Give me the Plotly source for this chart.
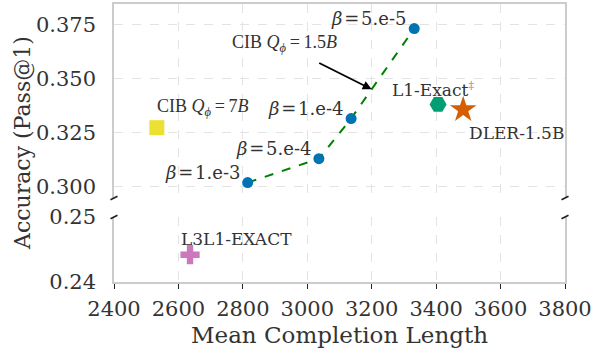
import plotly.graph_objects as go

# ---- data ----
beta_labels = ["<i>β</i>\u200a=\u200a1.e-3", "<i>β</i>\u200a=\u200a5.e-4",
               "<i>β</i>\u200a=\u200a1.e-4", "<i>β</i>\u200a=\u200a5.e-5"]
cib_len = [2815, 3036, 3136, 3332]
cib_acc = [0.302, 0.313, 0.3315, 0.373]

cib7_len, cib7_acc = [2533], [0.3273]
l1_len, l1_acc = [3406], [0.338]
dler_len, dler_acc = [3484], [0.3356]
l3_len, l3_acc = [2636], [0.2442]

arrow_target = (3200, 0.3450)

x_ticks = [2400, 2600, 2800, 3000, 3200, 3400, 3600, 3800]
y_top_ticks = [0.300, 0.325, 0.350, 0.375]
y_bot_ticks = [0.24, 0.25]

# ---- style ----
BLUE = "#0173b2"
GREEN_LINE = "#008000"
YELLOW = "#ece133"
TEAL = "#029e73"
ORANGE = "#d55e00"
PINK = "#cc78bc"
TXT = "#333333"
SPINE = "#cccccc"
GRID = "#e3e3e3"
SERIF = "DejaVu Serif"
TIMES = "Liberation Serif"

fig = go.Figure()

fig.add_trace(go.Scatter(x=cib_len, y=cib_acc, mode="lines",
                         line=dict(color=GREEN_LINE, width=2, dash="dash"),
                         xaxis="x2", yaxis="y2", showlegend=False, hoverinfo="skip"))
fig.add_trace(go.Scatter(x=cib_len, y=cib_acc, mode="markers",
                         marker=dict(color=BLUE, size=11, line=dict(width=0)),
                         xaxis="x2", yaxis="y2", showlegend=False))
fig.add_trace(go.Scatter(x=cib7_len, y=cib7_acc, mode="markers",
                         marker=dict(color=YELLOW, size=15, symbol="square", line=dict(width=0)),
                         xaxis="x2", yaxis="y2", showlegend=False))
fig.add_trace(go.Scatter(x=l1_len, y=l1_acc, mode="markers",
                         marker=dict(color=TEAL, size=17, symbol="hexagon2", line=dict(width=0)),
                         xaxis="x2", yaxis="y2", showlegend=False))
fig.add_trace(go.Scatter(x=dler_len, y=dler_acc, mode="markers",
                         marker=dict(color=ORANGE, size=20, symbol="star", line=dict(width=0)),
                         xaxis="x2", yaxis="y2", showlegend=False))
fig.add_trace(go.Scatter(x=l3_len, y=l3_acc, mode="markers",
                         marker=dict(color=PINK, size=16, symbol="cross", line=dict(width=0)),
                         xaxis="x", yaxis="y", showlegend=False))

ann = []
for lx, ly, lab in zip(cib_len, cib_acc, beta_labels):
    ann.append(dict(x=lx, y=ly, xref="x2", yref="y2", text=lab, showarrow=False,
                    xanchor="right", yanchor="middle", xshift=-6, yshift=10,
                    font=dict(family=SERIF, size=18, color=TXT)))
ann.append(dict(x=cib7_len[0], y=cib7_acc[0], xref="x2", yref="y2",
                text="CIB <i>Q</i><sub><i>ϕ</i></sub>\u2009=\u20097<i>B</i>", showarrow=False,
                xanchor="left", yanchor="middle", xshift=-2, yshift=20,
                font=dict(family=TIMES, size=18, color=TXT)))
ann.append(dict(x=arrow_target[0], y=arrow_target[1], xref="x2", yref="y2",
                text="", showarrow=True, arrowhead=2, arrowsize=1, arrowwidth=1.8,
                arrowcolor="black", ax=-54, ay=-27, standoff=0))
ann.append(dict(x=arrow_target[0], y=arrow_target[1], xref="x2", yref="y2",
                text="CIB <i>Q</i><sub><i>ϕ</i></sub>\u2009=\u20091.5<i>B</i>", showarrow=False,
                xanchor="center", yanchor="middle", xshift=-87, yshift=46,
                font=dict(family=TIMES, size=18, color=TXT)))
ann.append(dict(x=l1_len[0], y=l1_acc[0], xref="x2", yref="y2",
                text="L1-Exact<sup><span style='color:#999999'>‡</span></sup>", showarrow=False,
                xanchor="center", yanchor="middle", xshift=-5, yshift=15,
                font=dict(family=SERIF, size=17, color=TXT)))
ann.append(dict(x=dler_len[0], y=dler_acc[0], xref="x2", yref="y2",
                text="DLER-1.5B", showarrow=False,
                xanchor="left", yanchor="middle", xshift=4, yshift=-23,
                font=dict(family=SERIF, size=17, color=TXT)))
ann.append(dict(x=l3_len[0], y=l3_acc[0], xref="x", yref="y",
                text="L3L1-EXACT", showarrow=False,
                xanchor="left", yanchor="middle", xshift=-11, yshift=16,
                font=dict(family=SERIF, size=17, color=TXT)))

# break marks (decoration)
W, H = 592, 354
L, R, T, B = 114, 27, 4, 72
pw, ph = W - L - R, H - T - B
top_dom = [(282 - 198) / ph, 1.0]
bot_dom = [0.0, (282 - 217) / ph]
shapes = []
for xp in (0.0, 1.0):
    for yp in (top_dom[0], bot_dom[1]):
        shapes.append(dict(type="line", xref="paper", yref="paper",
                           x0=xp - 3.5 / pw, x1=xp + 3.5 / pw,
                           y0=yp - 1.8 / ph, y1=yp + 1.8 / ph,
                           line=dict(color="#222222", width=1.6)))

axis_common = dict(gridcolor=GRID, griddash="dash", gridwidth=1, zeroline=False,
                   showline=True, linecolor=SPINE, linewidth=1.5, automargin=False)

fig.update_layout(
    width=W, height=H, margin=dict(l=L, r=R, t=T, b=B, autoexpand=False),
    plot_bgcolor="white", paper_bgcolor="white",
    annotations=ann, shapes=shapes,
    xaxis=dict(range=[2400, 3800], tickvals=x_ticks, domain=[0, 1], anchor="y",
               ticks="outside", ticklen=5, tickwidth=1.3, tickcolor="#222222",
               ticklabelstandoff=2, mirror=False,
               tickfont=dict(family=SERIF, size=21, color=TXT),
               title=dict(text="Mean Completion Length", standoff=7,
                          font=dict(family=SERIF, size=23, color=TXT)),
               **axis_common),
    xaxis2=dict(range=[2400, 3800], tickvals=x_ticks, domain=[0, 1], anchor="y2",
                matches="x", side="top", showticklabels=False, ticks="", mirror=False,
                **axis_common),
    yaxis=dict(range=[0.24, 0.25], tickvals=y_bot_ticks, ticktext=["0.24", "0.25"],
               domain=bot_dom, anchor="x", mirror=True,
               ticks="outside", ticklen=12, tickcolor="rgba(0,0,0,0)",
               tickfont=dict(family=SERIF, size=21, color=TXT),
               **axis_common),
    yaxis2=dict(range=[0.2949, 0.3843], tickvals=y_top_ticks,
                ticktext=["0.300", "0.325", "0.350", "0.375"],
                domain=top_dom, anchor="x2", mirror=True,
                ticks="outside", ticklen=12, tickcolor="rgba(0,0,0,0)",
                tickfont=dict(family=SERIF, size=21, color=TXT),
                **axis_common),
)

fig.add_annotation(x=0, y=0.5, xref="paper", yref="paper", xshift=-92,
                   text="Accuracy (Pass@1)", textangle=-90, showarrow=False,
                   xanchor="center", yanchor="middle",
                   font=dict(family=SERIF, size=22, color=TXT))

fig.write_html("out.html")
